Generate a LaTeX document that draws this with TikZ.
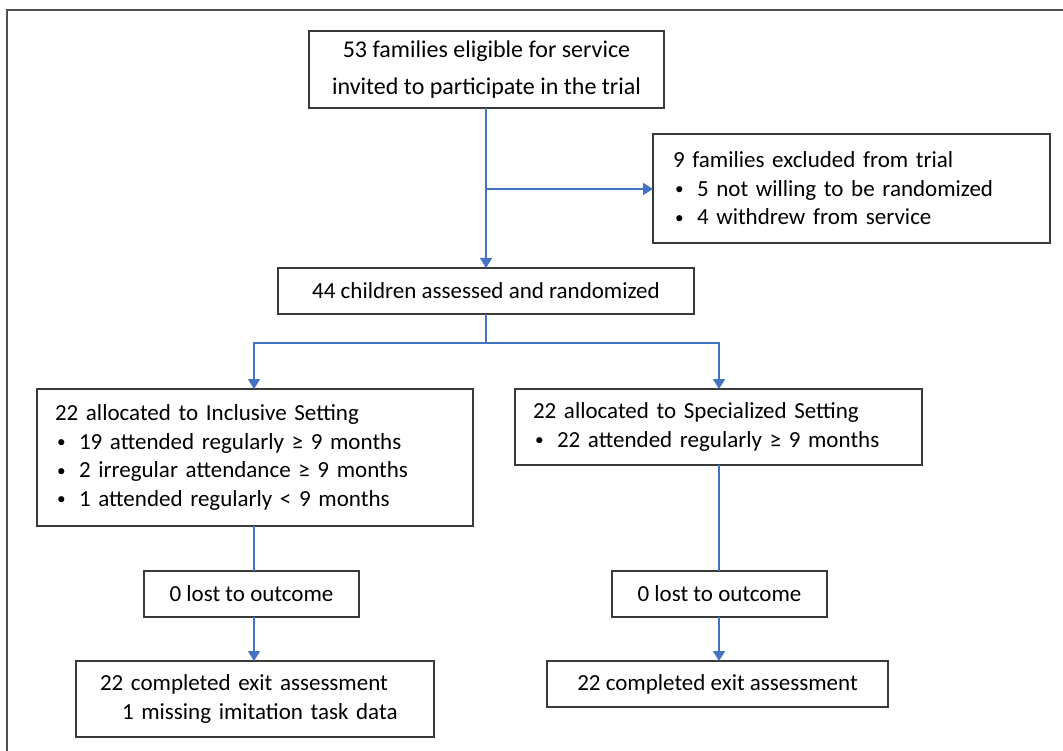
\documentclass[tikz,border=0pt]{standalone}
\usepackage{fontspec}
\setmainfont{Carlito}
\usetikzlibrary{arrows.meta}
\definecolor{linkblue}{HTML}{4472C4}
\definecolor{boxgray}{HTML}{3A3A3A}
\definecolor{framegray}{HTML}{505050}
\newcommand{\bul}{\makebox[24pt][l]{\hspace*{2pt}\raisebox{1.5pt}{\scalebox{0.75}{•}}}}
\tikzset{
  box/.style={draw=boxgray, line width=1.8pt, fill=white, inner sep=0pt, outer sep=0pt,
    font=\fontsize{23}{28.5}\selectfont, anchor=center},
  link/.style={draw=linkblue, line width=1.6pt},
  arr/.style={link, -{Triangle[width=12pt,length=10pt]}},
}
\begin{document}
\begin{tikzpicture}[x=1pt,y=-1pt]
\useasboundingbox (0,0) rectangle (1063,751);
% frame
\draw[framegray, line width=2pt] (7,751) -- (7,10) -- (1063,10);

\node[box, minimum width=355pt, minimum height=77pt, align=center, font=\fontsize{24}{37}\selectfont] (top) at (486.5,69.5)
  {53 families eligible for service\\invited to participate in the trial};
\node[box, minimum width=397pt, minimum height=109pt, text width=357pt, align=left] (excl) at (851.5,188.5)
  {9 families excluded from trial\\\bul 5 not willing to be randomized\\\bul 4 withdrew from service};
\node[box, minimum width=416pt, minimum height=46pt, align=center] (rand) at (486,291)
  {44 children assessed and randomized};
\node[box, minimum width=436pt, minimum height=137pt, text width=400pt, align=left] (alocL) at (255,457.5)
  {22 allocated to Inclusive Setting\\\bul 19 attended regularly ≥ 9 months\\\bul 2 irregular attendance ≥ 9 months\\\bul 1 attended regularly < 9 months};
\node[box, minimum width=407pt, minimum height=76pt, text width=371pt, align=left] (alocR) at (718.5,427)
  {22 allocated to Specialized Setting\\\bul 22 attended regularly ≥ 9 months};
\node[box, minimum width=215pt, minimum height=46pt, align=center] (lostL) at (251.5,594) {0 lost to outcome};
\node[box, minimum width=215pt, minimum height=46pt, align=center] (lostR) at (719.5,594) {0 lost to outcome};
\node[box, minimum width=358pt, minimum height=76pt, text width=310pt, align=left] (botL) at (255,699)
  {22 completed exit assessment\\\hspace*{22pt}1 missing imitation task data};
\node[box, minimum width=341pt, minimum height=46pt, align=center] (botR) at (717.5,684) {22 completed exit assessment};

\coordinate (mainx) at (486,0);
\coordinate (branch) at (486,189);
\coordinate (split) at (486,343);
\coordinate (sL) at (254,343);
\coordinate (sR) at (719,343);

\draw[arr] (top.south -| mainx) -- (rand.north -| mainx);
\draw[arr] (branch) -- (excl.west |- branch);
\draw[link] (rand.south -| mainx) -- (split);
\draw[arr] (split) -- (sL) -- (alocL.north -| sL);
\draw[arr] (split) -- (sR) -- (alocR.north -| sR);
\draw[link] (alocL.south -| sL) -- (lostL.north -| sL);
\draw[arr] (lostL.south -| sL) -- (botL.north -| sL);
\draw[link] (alocR.south -| sR) -- (lostR.north -| sR);
\draw[arr] (lostR.south -| sR) -- (botR.north -| sR);
\end{tikzpicture}
\end{document}
